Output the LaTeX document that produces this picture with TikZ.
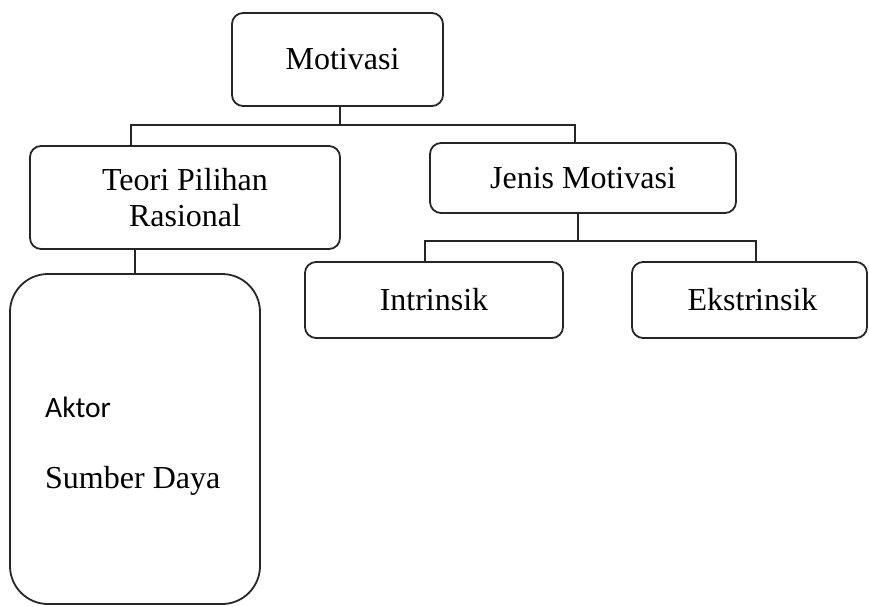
\documentclass[tikz,border=0pt]{standalone}
\usepackage{fontspec}
\setmainfont{Liberation Serif}
\newfontfamily\calibri{Carlito}
\usetikzlibrary{positioning}

\begin{document}
\begin{tikzpicture}[x=1pt, y=-1pt,
  box/.style={draw=black!85, line width=1.8pt, rounded corners=11pt, align=center,
    inner sep=0pt, font=\fontsize{32}{36}\selectfont},
  link/.style={draw=black!85, line width=1.8pt}]

% Page size of the reference
\useasboundingbox (0,0) rectangle (869,606);

% Draw the boxes of the chart
\node [box, minimum width=211, minimum height=93] (mot) at (337.5,59.5) {\hspace*{10pt}Motivasi};
\node [box, minimum width=310, minimum height=103] (teori) at (185,197.5) {Teori Pilihan\\Rasional};
\node [box, minimum width=306, minimum height=70] (jenis) at (583,178) {Jenis Motivasi};
\node [box, minimum width=258, minimum height=76] (intr) at (434,300) {Intrinsik};
\node [box, minimum width=235, minimum height=76] (ekstr) at (749.5,300) {\hspace*{6pt}Ekstrinsik};
\node [box, rounded corners=38pt, minimum width=250, minimum height=330] (aktor) at (135,439) {};

% Texts inside the large box
\node [anchor=base west, inner sep=0pt, font=\calibri\fontsize{29.5}{34}\selectfont] (aktortxt) at (45,417) {Aktor};
\node [anchor=base west, inner sep=0pt, font=\fontsize{32}{36}\selectfont] (sumber) at (45,488) {Sumber Daya};

% Connector lines
\coordinate (busM) at (340,125);
\coordinate (busA) at (131,125);
\coordinate (busB) at (575,125);
\coordinate (busJ) at (578,241);
\coordinate (busC) at (425,241);
\coordinate (busD) at (756,241);

\draw [link] (mot.south -| busM) -- (busM);
\draw [link] (teori.north -| busA) -- (busA) -- (busB) -- (busB |- jenis.north);
\draw [link] (teori.south -| aktor.north) -- (aktor.north);
\draw [link] (jenis.south -| busJ) -- (busJ);
\draw [link] (busC |- intr.north) -- (busC) -- (busD) -- (busD |- ekstr.north);

\end{tikzpicture}
\end{document}
